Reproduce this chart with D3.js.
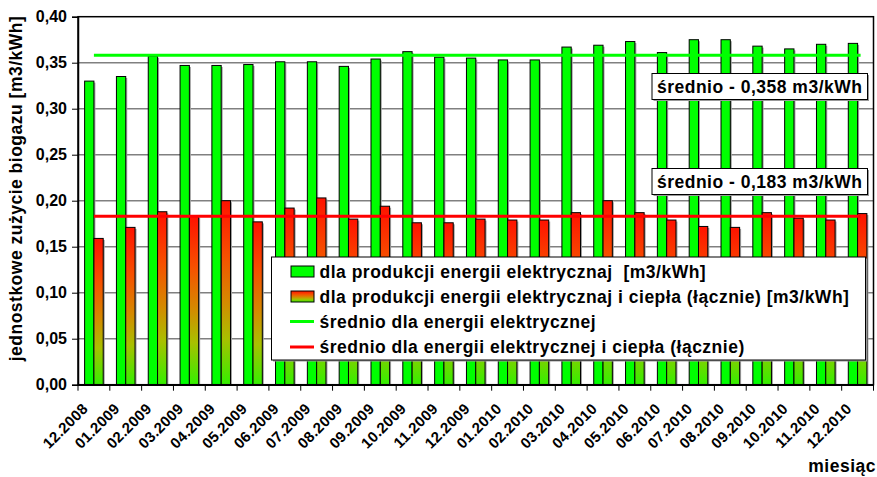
<!DOCTYPE html>
<html><head><meta charset="utf-8">
<script src="https://cdn.jsdelivr.net/npm/d3@7"></script>
<style>body{margin:0;background:#fff}svg{display:block;font-family:Arial,"Liberation Sans",sans-serif}</style>
</head><body><svg id="c" width="877" height="477"></svg>
<script>
const months = ["12.2008","01.2009","02.2009","03.2009","04.2009","05.2009","06.2009","07.2009","08.2009","09.2009","10.2009","11.2009","12.2009","01.2010","02.2010","03.2010","04.2010","05.2010","06.2010","07.2010","08.2010","09.2010","10.2010","11.2010","12.2010"];
const elecValues = [0.330,0.335,0.357,0.347,0.347,0.348,0.351,0.351,0.346,0.354,0.362,0.356,0.355,0.353,0.353,0.367,0.369,0.373,0.361,0.375,0.375,0.368,0.365,0.370,0.371];
const chpValues = [0.159,0.171,0.188,0.183,0.200,0.177,0.192,0.203,0.180,0.194,0.176,0.176,0.180,0.179,0.179,0.187,0.200,0.187,0.179,0.172,0.171,0.187,0.181,0.179,0.186];
const avgElec = 0.358, avgChp = 0.183;
const yTicks = [0,0.05,0.10,0.15,0.20,0.25,0.30,0.35,0.40];
const legendLabels = ["dla produkcji energii elektrycznaj  [m3/kWh]","dla produkcji energii elektrycznaj i ciepła (łącznie) [m3/kWh]","średnio dla energii elektrycznej","średnio dla energii elektrycznej i ciepła (łącznie)"];
const annElec = "średnio - 0,358 m3/kWh", annChp = "średnio - 0,183 m3/kWh";
const yTitle = "jednostkowe zużycie biogazu [m3/kWh]", xTitle = "miesiąc";

const svg = d3.select("#c");
const L=78, R=873.5, T=16.7, B=384.7;
const x = d3.scaleBand().domain(months).range([L,R]).paddingInner(0).paddingOuter(0);
const y = d3.scaleLinear().domain([0,0.4]).range([B,T]);
const bw = 9.3;

const defs = svg.append("defs");
const g = defs.append("linearGradient").attr("id","rg").attr("x1",0).attr("y1",0).attr("x2",0).attr("y2",1);
[[0,"#ff1200"],[0.3,"#f65000"],[0.55,"#d48a00"],[0.75,"#a8c000"],[1,"#33f000"]].forEach(s=>g.append("stop").attr("offset",s[0]).attr("stop-color",s[1]));

// gridlines
svg.append("g").selectAll("line").data(yTicks.slice(1,-1)).join("line")
  .attr("x1",L).attr("x2",R).attr("y1",d=>y(d)).attr("y2",d=>y(d))
  .attr("stroke","#808080").attr("stroke-width",1.5);

// bars
const bars = svg.append("g");
months.forEach((m,i)=>{
  const cx = x(m)+x.bandwidth()/2;
  const gx = cx-bw, rx = cx;
  [[gx,elecValues[i],"#00ff00"],[rx,chpValues[i],"url(#rg)"]].forEach(([bx,v,f])=>{
    bars.append("rect").attr("x",bx+1.5).attr("y",y(v)+1.5).attr("width",bw).attr("height",B-y(v)-1.5).attr("fill","#a0a0a0");
    bars.append("rect").attr("x",bx).attr("y",y(v)).attr("width",bw).attr("height",B-y(v)).attr("fill",f).attr("stroke","#000").attr("stroke-width",1);
  });
});

// average lines
const x0 = x(months[0])+x.bandwidth()/2, x1 = x(months[months.length-1])+x.bandwidth()/2+3;
svg.append("line").attr("x1",x0).attr("x2",x1).attr("y1",y(avgElec)).attr("y2",y(avgElec)).attr("stroke","#00ff00").attr("stroke-width",3);
svg.append("line").attr("x1",x0).attr("x2",x1).attr("y1",y(avgChp)).attr("y2",y(avgChp)).attr("stroke","#ff0000").attr("stroke-width",3);

// plot border
svg.append("rect").attr("x",L).attr("y",T).attr("width",R-L).attr("height",B-T).attr("fill","none").attr("stroke","#000").attr("stroke-width",1.5);

// axes
const ya = svg.append("g").attr("transform",`translate(${L},0)`).call(d3.axisLeft(y).tickValues(yTicks).tickSize(6).tickFormat(d=>d3.format(".2f")(d).replace(".",",")));
ya.select(".domain").attr("stroke","#000").attr("stroke-width",1.5);
ya.selectAll("text").attr("font-size",16).attr("font-weight","bold").attr("fill","#000").attr("x",-11);
const xa = svg.append("g").attr("transform",`translate(0,${B})`).call(d3.axisBottom(x).tickSize(0).tickFormat(""));
xa.select(".domain").attr("stroke","#000").attr("stroke-width",1.5);
svg.append("g").selectAll("line").data(months).join("line")
  .attr("x1",d=>x(d)).attr("x2",d=>x(d)).attr("y1",B).attr("y2",B+6).attr("stroke","#000");
svg.append("line").attr("x1",R).attr("x2",R).attr("y1",B).attr("y2",B+6).attr("stroke","#000");
svg.append("g").selectAll("text").data(months).join("text")
  .attr("transform",d=>`translate(${x(d)+x.bandwidth()/2-5},${B+25}) rotate(-45)`)
  .attr("text-anchor","end").attr("font-size",15).attr("letter-spacing",0.3).attr("font-weight","bold").text(d=>d);

// titles
svg.append("text").attr("transform",`translate(22,188.5) rotate(-90)`).attr("text-anchor","middle")
  .attr("font-size",17.5).attr("letter-spacing",0.5).attr("font-weight","bold").text(yTitle);
svg.append("text").attr("x",876).attr("y",472).attr("text-anchor","end").attr("font-size",17.5).attr("letter-spacing",0.5).attr("font-weight","bold").text(xTitle);

// annotation boxes
[[annElec,73.5],[annChp,168.5]].forEach(([t,by])=>{
  svg.append("rect").attr("x",653.5).attr("y",by+1.5).attr("width",215.5).attr("height",26).attr("fill","#999");
  svg.append("rect").attr("x",652).attr("y",by).attr("width",215.5).attr("height",26).attr("fill","#fff").attr("stroke","#000").attr("stroke-width",1);
  svg.append("text").attr("x",759.7).attr("y",by+19.5).attr("text-anchor","middle").attr("font-size",17.5).attr("letter-spacing",0.5).attr("font-weight","bold").text(t);
});

// legend
const lg = svg.append("g");
lg.append("rect").attr("x",273).attr("y",258.5).attr("width",594).attr("height",103).attr("fill","#999");
lg.append("rect").attr("x",271.5).attr("y",257).attr("width",594).attr("height",103).attr("fill","#fff").attr("stroke","#000").attr("stroke-width",1);
const rowsY = [271.5,296.5,321.5,347];
legendLabels.forEach((t,i)=>{
  const ry = rowsY[i];
  if(i<2){
    lg.append("rect").attr("x",291).attr("y",ry-5.5).attr("width",23).attr("height",11).attr("fill",i==0?"#00ff00":"url(#rg)").attr("stroke","#000");
  } else {
    lg.append("line").attr("x1",290).attr("x2",314).attr("y1",ry).attr("y2",ry).attr("stroke",i==2?"#00ff00":"#ff0000").attr("stroke-width",3);
  }
  lg.append("text").attr("x",319.5).attr("y",ry+6).attr("font-size",17.5).attr("letter-spacing",0.5).attr("font-weight","bold").attr("xml:space","preserve").style("white-space","pre").text(t);
});
</script></body></html>
